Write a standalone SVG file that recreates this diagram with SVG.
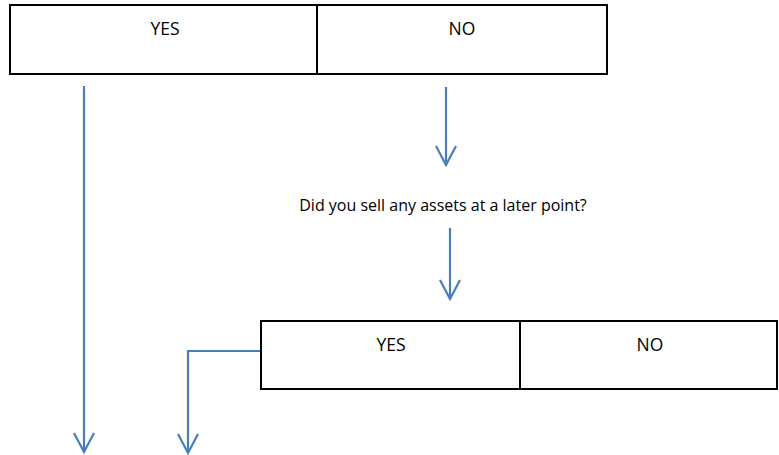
<svg xmlns="http://www.w3.org/2000/svg" width="779" height="455" viewBox="0 0 779 455">
<defs>
<style>
.box{fill:#fff;stroke:#000;stroke-width:2}
.lbl{font-family:"Open Sans","Liberation Sans",sans-serif;font-size:17.5px;fill:#000;text-anchor:middle}
.q{font-family:"Open Sans","Liberation Sans",sans-serif;font-size:16px;fill:#000;text-anchor:middle}
.con{fill:none;stroke:#4a7ebb;stroke-width:2.2}
</style>
<marker id="ah" viewBox="0 0 24 24" markerWidth="24" markerHeight="24" refX="22" refY="12" orient="auto" markerUnits="userSpaceOnUse">
<path d="M3,2 L22,12 L3,22" fill="none" stroke="#4a7ebb" stroke-width="2.2"/>
</marker>
</defs>
<rect width="779" height="455" fill="#fff"/>
<g id="top-choice">
<rect class="box" x="10" y="5" width="597" height="69"/>
<line x1="317" y1="5" x2="317" y2="74" stroke="#000" stroke-width="2"/>
<text class="lbl" x="165" y="35">YES</text>
<text class="lbl" x="462" y="35">NO</text>
</g>
<g id="question">
<text class="q" x="443" y="211">Did you sell any assets at a later point?</text>
</g>
<g id="second-choice">
<rect class="box" x="261" y="321" width="516" height="68"/>
<line x1="520" y1="321" x2="520" y2="389" stroke="#000" stroke-width="2"/>
<text class="lbl" x="391" y="351">YES</text>
<text class="lbl" x="650" y="351">NO</text>
</g>
<g id="connectors">
<path class="con" d="M84,86 L84,452" marker-end="url(#ah)"/>
<path class="con" d="M446,87 L446,165" marker-end="url(#ah)"/>
<path class="con" d="M450,228 L450,299" marker-end="url(#ah)"/>
<path class="con" d="M260,351 L188,351 L188,453" marker-end="url(#ah)"/>
</g>
</svg>
